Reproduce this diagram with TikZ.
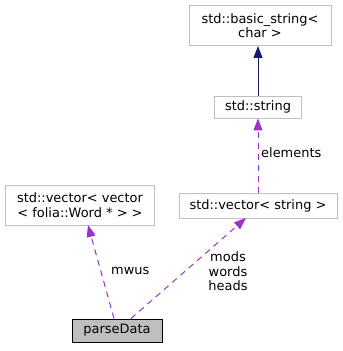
\documentclass[tikz,border=0pt]{standalone}
\usepackage{fontspec}
\setmainfont{DejaVu Sans}
\usetikzlibrary{arrows.meta}
\definecolor{boxline}{HTML}{BFBFBF}
\definecolor{usecol}{HTML}{9A32CD}
\definecolor{inhcol}{HTML}{191970}
\begin{document}
\begin{tikzpicture}[x=1bp,y=-1bp,
  font=\fontsize{13}{14.5}\selectfont,
  cls/.style={draw=boxline, fill=white, line width=1pt, inner sep=0pt, align=center},
  focus/.style={draw=black, fill=boxline, line width=1pt, inner sep=0pt, align=center},
  usage/.style={draw=usecol, dashed, dash pattern=on 6pt off 5pt, line width=1pt,
    -{Triangle[length=12pt,width=9pt,fill=usecol]}},
  inherit/.style={draw=inhcol, line width=1pt,
    -{Triangle[length=12pt,width=9pt,fill=inhcol]}},
  lbl/.style={inner sep=0pt, align=center}]
\useasboundingbox (0,0) rectangle (343,351);

\node[cls, minimum width=142bp, minimum height=40bp] (bstr) at (260,25.5) {std::basic\_string<\\char >};
\node[cls, minimum width=87bp, minimum height=22bp] (str) at (258,107) {std::string};
\node[cls, minimum width=158bp, minimum height=25bp] (vstr) at (258,205.5) {std::vector< string >};
\node[cls, minimum width=149bp, minimum height=40bp] (vvw) at (80,205) {std::vector< vector\\< folia::Word * > >};
\node[focus, minimum width=90bp, minimum height=23bp] (pd) at (117,330.5) {parseData};

\draw[inherit] (str.north -| 258,0) -- (bstr.south -| 258,0);
\draw[usage] (vstr.north -| 258,0) -- (str.south -| 258,0);
\draw[usage] (pd.north -| 131,0) -- (246,218);
\draw[usage] (pd.north -| 114,0) -- (88,225);

\node[lbl, anchor=west] (lel) at (261,153) {elements};
\node[lbl] (lmw) at (228,271.5) {mods\\words\\heads};
\node[lbl, anchor=west] (lmu) at (111,271) {mwus};
\end{tikzpicture}
\end{document}
